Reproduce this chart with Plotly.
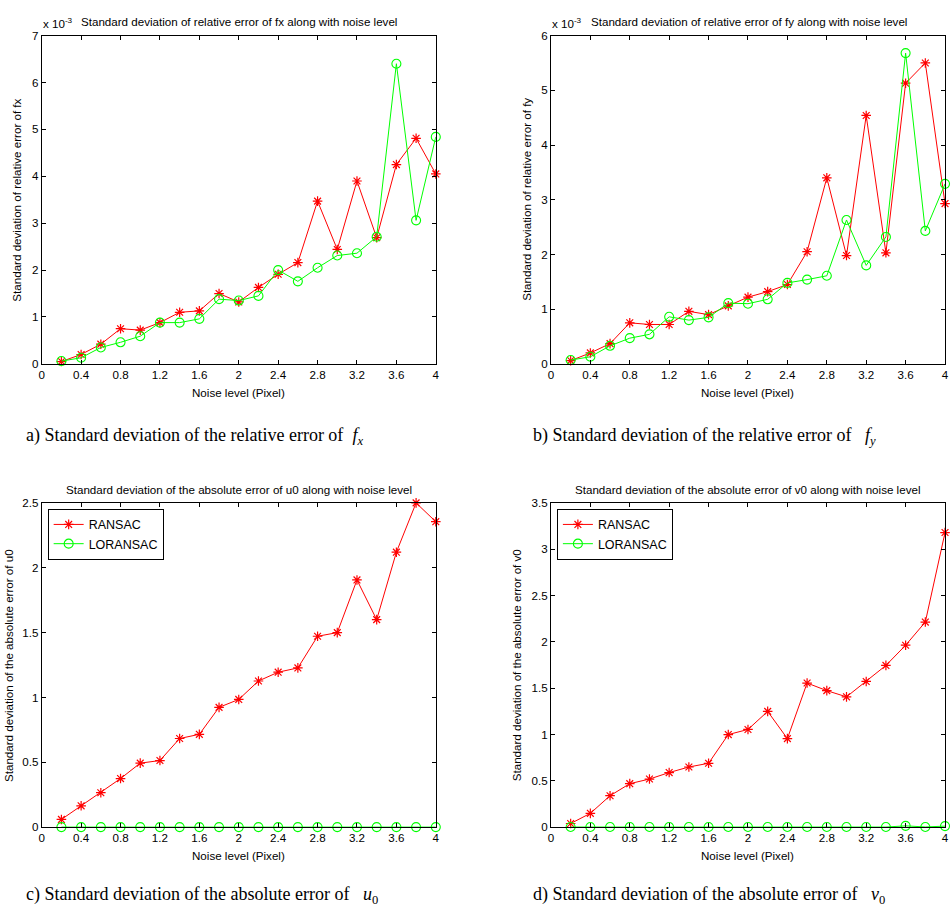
import plotly.graph_objects as go

W, H = 952, 919

noise = [0.2, 0.4, 0.6, 0.8, 1.0, 1.2, 1.4, 1.6, 1.8, 2.0,
         2.2, 2.4, 2.6, 2.8, 3.0, 3.2, 3.4, 3.6, 3.8, 4.0]

# (a) fx, values in units of 1e-3
fx_ransac = [0.05, 0.2, 0.42, 0.75, 0.72, 0.88, 1.1, 1.13, 1.5, 1.32,
             1.63, 1.91, 2.16, 3.47, 2.44, 3.9, 2.69, 4.25, 4.81, 4.05]
fx_loransac = [0.06, 0.13, 0.35, 0.46, 0.59, 0.88, 0.88, 0.96, 1.38, 1.35,
               1.45, 2.0, 1.76, 2.05, 2.31, 2.36, 2.71, 6.4, 3.06, 4.84]
# (b) fy, values in units of 1e-3
fy_ransac = [0.06, 0.2, 0.37, 0.75, 0.72, 0.72, 0.96, 0.9, 1.06, 1.22,
             1.32, 1.45, 2.05, 3.4, 1.98, 4.54, 2.03, 5.13, 5.5, 2.93]
fy_loransac = [0.07, 0.13, 0.33, 0.47, 0.54, 0.86, 0.8, 0.85, 1.11, 1.1,
               1.18, 1.48, 1.54, 1.61, 2.63, 1.8, 2.32, 5.68, 2.43, 3.29]
# (c) u0
u0_ransac = [0.06, 0.165, 0.266, 0.375, 0.494, 0.514, 0.684, 0.716, 0.924, 0.985,
             1.127, 1.195, 1.228, 1.472, 1.5, 1.906, 1.6, 2.12, 2.5, 2.355]
u0_loransac = [0.001, 0.001, 0.001, 0.001, 0.001, 0.001, 0.001, 0.001, 0.001, 0.001,
               0.001, 0.001, 0.001, 0.001, 0.001, 0.001, 0.001, 0.001, 0.001, 0.001]
# (d) v0
v0_ransac = [0.04, 0.15, 0.34, 0.47, 0.52, 0.59, 0.65, 0.69, 1.0, 1.055,
             1.25, 0.956, 1.556, 1.474, 1.407, 1.573, 1.746, 1.964, 2.214, 3.18]
v0_loransac = [0.002, 0.002, 0.002, 0.002, 0.002, 0.002, 0.002, 0.002, 0.002, 0.002,
               0.002, 0.002, 0.002, 0.002, 0.002, 0.002, 0.002, 0.015, 0.003, 0.012]

x_ticks = [0, 0.4, 0.8, 1.2, 1.6, 2, 2.4, 2.8, 3.2, 3.6, 4]
x_ticktext = ["0", "0.4", "0.8", "1.2", "1.6", "2", "2.4", "2.8", "3.2", "3.6", "4"]

titles = [
    "Standard deviation of relative error of fx along with noise level",
    "Standard deviation of relative error of fy along with noise level",
    "Standard deviation of the absolute error of u0 along with noise level",
    "Standard deviation of the absolute error of v0 along with noise level",
]
ylabels = [
    "Standard deviation of relative error of fx",
    "Standard deviation of relative error of fy",
    "Standard deviation of the absolute error of u0",
    "Standard deviation of the absolute error of v0",
]
xlabel = "Noise level (Pixel)"
NB = "\u00a0"
captions = [
    "a) Standard deviation of the relative error of" + NB * 2 + "<i>f</i><sub><i>x</i></sub>",
    "b) Standard deviation of the relative error of" + NB * 3 + "<i>f</i><sub><i>y</i></sub>",
    "c) Standard deviation of the absolute error of" + NB * 3 + "<i>u</i><sub>0</sub>",
    "d) Standard deviation of the absolute error of" + NB * 3 + "<i>v</i><sub>0</sub>",
]
legend_names = ["RANSAC", "LORANSAC"]

FONT = "Liberation Sans, Arial, sans-serif"
SERIF = "Liberation Serif, Times New Roman, serif"
FS = 11.6

# pixel boxes of plot areas: (left, right, top, bottom)
boxes = [(39, 436, 29, 362), (552, 949, 29, 362),
         (39, 436, 503, 832), (552, 949, 503, 832)]
yranges = [[0, 7], [0, 6], [0, 2.5], [0, 3.5]]
ydticks = [1, 1, 0.5, 0.5]

def px(x):
    return x / W

def py(y):
    return 1 - y / H

fig = go.Figure()
series = [(fx_ransac, fx_loransac), (fy_ransac, fy_loransac),
          (u0_ransac, u0_loransac), (v0_ransac, v0_loransac)]

for i, (r, l) in enumerate(series):
    xa = "x" if i == 0 else f"x{i+1}"
    ya = "y" if i == 0 else f"y{i+1}"
    kw = dict(showlegend=i >= 2)
    if i == 2:
        kw["legend"] = "legend"
    elif i == 3:
        kw["legend"] = "legend2"
    fig.add_trace(go.Scatter(
        x=noise, y=r, xaxis=xa, yaxis=ya, mode="lines+markers", name=legend_names[0],
        line=dict(color="#ff0000", width=1),
        marker=dict(symbol="asterisk-open", size=8, color="#ff0000",
                    line=dict(color="#ff0000", width=1.2)),
        cliponaxis=False, **kw))
    fig.add_trace(go.Scatter(
        x=noise, y=l, xaxis=xa, yaxis=ya, mode="lines+markers", name=legend_names[1],
        line=dict(color="#00ff00", width=1),
        marker=dict(symbol="circle-open", size=9, color="#00ff00",
                    line=dict(color="#00ff00", width=1.1)),
        cliponaxis=False, **kw))

layout = dict(
    width=W, height=H, margin=dict(l=0, r=0, t=0, b=0),
    paper_bgcolor="white", plot_bgcolor="white",
    font=dict(family=FONT, size=FS, color="black"),
)
annotations = []
for i, (l, r, t, b) in enumerate(boxes):
    sfx = "" if i == 0 else str(i + 1)
    layout["xaxis" + sfx] = dict(
        domain=[px(l), px(r)], range=[0, 4], anchor="y" + sfx,
        tickvals=x_ticks, ticktext=x_ticktext, ticks="inside", ticklen=4,
        tickcolor="black", showline=True, linecolor="black", linewidth=1,
        mirror="ticks", showgrid=False, zeroline=False,
        tickfont=dict(family=FONT, size=FS, color="black"))
    layout["yaxis" + sfx] = dict(
        domain=[py(b), py(t)], range=yranges[i], anchor="x" + sfx,
        dtick=ydticks[i], tick0=0, ticks="inside", ticklen=4,
        tickcolor="black", showline=True, linecolor="black", linewidth=1,
        mirror="ticks", showgrid=False, zeroline=False,
        tickfont=dict(family=FONT, size=FS, color="black"))
    cx = (l + r) / 2
    if i < 2:
        annotations.append(dict(text=titles[i], x=px(l + 38), y=py(15), xref="paper", yref="paper",
                                xanchor="left", yanchor="middle", showarrow=False,
                                font=dict(family=FONT, size=FS)))
        annotations.append(dict(text="x 10<sup>-3</sup>", x=px(l - 1), y=py(16), xref="paper", yref="paper",
                                xanchor="left", yanchor="middle", showarrow=False,
                                font=dict(family=FONT, size=FS)))
    else:
        annotations.append(dict(text=titles[i], x=px(cx), y=py(t - 14), xref="paper", yref="paper",
                                xanchor="center", yanchor="middle", showarrow=False,
                                font=dict(family=FONT, size=FS)))
    annotations.append(dict(text=xlabel, x=px(cx), y=py(b + 29), xref="paper", yref="paper",
                            xanchor="center", yanchor="middle", showarrow=False,
                            font=dict(family=FONT, size=FS)))
    ylx = [14, 528, 5, 517][i]
    annotations.append(dict(text=ylabels[i], x=px(ylx), y=py((t + b) / 2), xref="paper", yref="paper",
                            xanchor="center", yanchor="middle", showarrow=False, textangle=-90,
                            font=dict(family=FONT, size=FS)))
    capy = 436 if i < 2 else 901
    capx = [21, 532, 21, 532][i]
    annotations.append(dict(text=captions[i], x=px(capx), y=py(capy), xref="paper", yref="paper",
                            xanchor="left", yanchor="middle", showarrow=False,
                            font=dict(family=SERIF, size=18)))

layout["annotations"] = annotations
legend_common = dict(
    bgcolor="white", bordercolor="black", borderwidth=1,
    font=dict(family=FONT, size=12.5, color="black"),
    xanchor="left", yanchor="top", tracegroupgap=0, itemwidth=30,
)
layout["legend"] = dict(x=px(45), y=py(509), **legend_common)
layout["legend2"] = dict(x=px(558), y=py(509), **legend_common)
fig.update_layout(**layout)

fig.write_html("out.html", config={"displayModeBar": False},
               post_script="document.documentElement.style.margin='0';document.documentElement.style.overflow='hidden';document.body.style.margin='0';document.body.style.padding='0';document.body.style.overflow='hidden';")
